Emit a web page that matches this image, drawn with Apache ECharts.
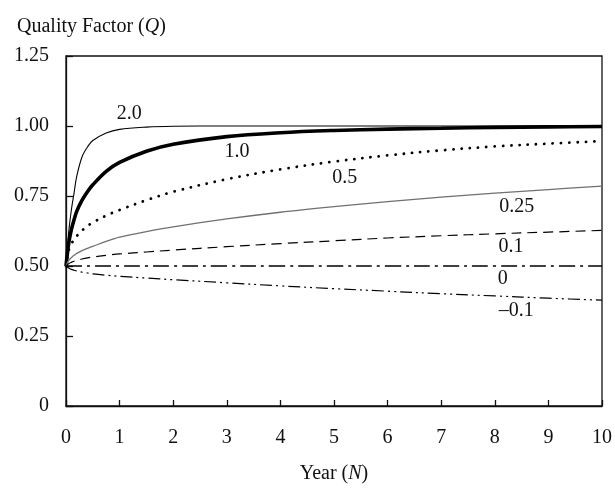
<!DOCTYPE html>
<html><head><meta charset="utf-8">
<script src="https://cdn.jsdelivr.net/npm/echarts@6/dist/echarts.min.js"></script>
<style>html,body{margin:0;padding:0;background:#fff}#c{width:615px;height:489px}</style>
</head><body><div id="c"></div>
<script>
var years = [0, 0.05, 0.1, 0.15, 0.2, 0.3, 0.4, 0.5, 0.75, 1, 1.5, 2, 3, 4, 5, 6, 7, 8, 9, 10];
var q_2_0  = [0.5, 0.62, 0.70, 0.76, 0.82, 0.89, 0.925, 0.948, 0.975, 0.988, 0.996, 0.999, 1.0, 1.0, 1.0, 1.0, 1.0, 1.0, 1.0, 1.0];
var q_1_0  = [0.5, 0.58, 0.63, 0.665, 0.695, 0.735, 0.765, 0.79, 0.838, 0.87, 0.91, 0.935, 0.962, 0.976, 0.984, 0.989, 0.992, 0.995, 0.997, 0.998];
var q_0_5  = [0.5, 0.555, 0.578, 0.595, 0.607, 0.627, 0.643, 0.655, 0.68, 0.70, 0.735, 0.765, 0.81, 0.845, 0.873, 0.895, 0.913, 0.927, 0.937, 0.946];
var q_0_25 = [0.5, 0.52, 0.53, 0.538, 0.545, 0.555, 0.563, 0.57, 0.588, 0.603, 0.623, 0.64, 0.668, 0.692, 0.712, 0.73, 0.746, 0.76, 0.773, 0.785];
var q_0_1  = [0.5, 0.508, 0.513, 0.517, 0.52, 0.525, 0.529, 0.532, 0.538, 0.543, 0.55, 0.557, 0.569, 0.58, 0.59, 0.60, 0.608, 0.615, 0.621, 0.627];
var q_0    = [0.5, 0.5, 0.5, 0.5, 0.5, 0.5, 0.5, 0.5, 0.5, 0.5, 0.5, 0.5, 0.5, 0.5, 0.5, 0.5, 0.5, 0.5, 0.5, 0.5];
var q_m0_1 = [0.5, 0.493, 0.488, 0.485, 0.482, 0.478, 0.475, 0.472, 0.467, 0.463, 0.457, 0.451, 0.44, 0.429, 0.419, 0.41, 0.401, 0.393, 0.385, 0.378];

var curveLabels = ['2.0', '1.0', '0.5', '0.25', '0.1', '0', '\u20130.1'];
var labelN = [1.18, 3.19, 5.2, 8.41, 8.3, 8.15, 8.4];
var labelQ = [1.043, 0.909, 0.815, 0.711, 0.569, 0.456, 0.341];

var FONT = '"Liberation Serif", "Times New Roman", serif';

function pairs(ys) { return years.map(function (x, i) { return [x, ys[i]]; }); }

function lineSeries(ys, style) {
  return {
    type: 'line', data: pairs(ys), smooth: 0.35, showSymbol: false, symbol: 'none',
    silent: true, animation: false, lineStyle: style, z: 3
  };
}

var chart = echarts.init(document.getElementById('c'), null, {renderer: 'canvas'});
chart.setOption({
  animation: false,
  backgroundColor: '#fff',
  title: {
    left: 12, top: 12,
    text: '{a|Quality Factor (}{b|Q}{a|)}',
    textStyle: {
      fontWeight: 'normal',
      rich: {
        a: {fontFamily: FONT, fontSize: 20, color: '#111', fontWeight: 'normal'},
        b: {fontFamily: FONT, fontSize: 20, color: '#111', fontWeight: 'normal', fontStyle: 'italic'}
      }
    }
  },
  grid: {left: 66, right: 7, top: 56, bottom: 77, show: true, borderColor: '#111', borderWidth: 1.3, backgroundColor: 'transparent'},
  xAxis: {
    type: 'value', min: 0, max: 10, interval: 1,
    name: '{a|Year (}{b|N}{a|)}', nameLocation: 'middle', nameGap: 58,
    nameTextStyle: {
      rich: {
        a: {fontFamily: FONT, fontSize: 20, color: '#111'},
        b: {fontFamily: FONT, fontSize: 20, color: '#111', fontStyle: 'italic'}
      }
    },
    axisLine: {lineStyle: {color: '#111', width: 1.3}},
    axisTick: {inside: true, length: 6, lineStyle: {color: '#111', width: 1.3}},
    axisLabel: {margin: 22, fontFamily: FONT, fontSize: 20, color: '#111'},
    splitLine: {show: false}
  },
  yAxis: {
    type: 'value', min: 0, max: 1.25, interval: 0.25,
    axisLine: {show: true, lineStyle: {color: '#111', width: 1.3}},
    axisTick: {show: true, inside: true, length: 7, lineStyle: {color: '#111', width: 1.3}},
    axisLabel: {
      margin: 17, fontFamily: FONT, fontSize: 20, color: '#111',
      formatter: function (v) { return v === 0 ? '0' : v.toFixed(2); }
    },
    splitLine: {show: false}
  },
  series: [
    lineSeries(q_2_0, {color: '#000', width: 1.1}),
    lineSeries(q_1_0, {color: '#000', width: 3.6}),
    lineSeries(q_0_5, {color: '#000', width: 2.8, type: [0.1, 8.2], cap: 'round'}),
    lineSeries(q_0_25, {color: '#707070', width: 1.3}),
    lineSeries(q_0_1, {color: '#000', width: 1.2, type: [10, 6]}),
    lineSeries(q_0, {color: '#000', width: 1.4, type: [16, 5, 3, 5]}),
    lineSeries(q_m0_1, {color: '#000', width: 1.2, type: [12, 4, 2, 4, 2, 4]}),
    {
      type: 'scatter', symbolSize: 0, silent: true, animation: false, z: 5,
      itemStyle: {color: '#000', opacity: 1},
      data: labelN.map(function (n, i) { return {value: [n, labelQ[i]], name: curveLabels[i]}; }),
      label: {
        show: true, position: 'inside', formatter: function (p) { return p.name; },
        fontFamily: FONT, fontSize: 20, color: '#111', opacity: 1,
        textBorderWidth: 0, textBorderColor: 'transparent'
      }
    }
  ]
});
</script></body></html>
